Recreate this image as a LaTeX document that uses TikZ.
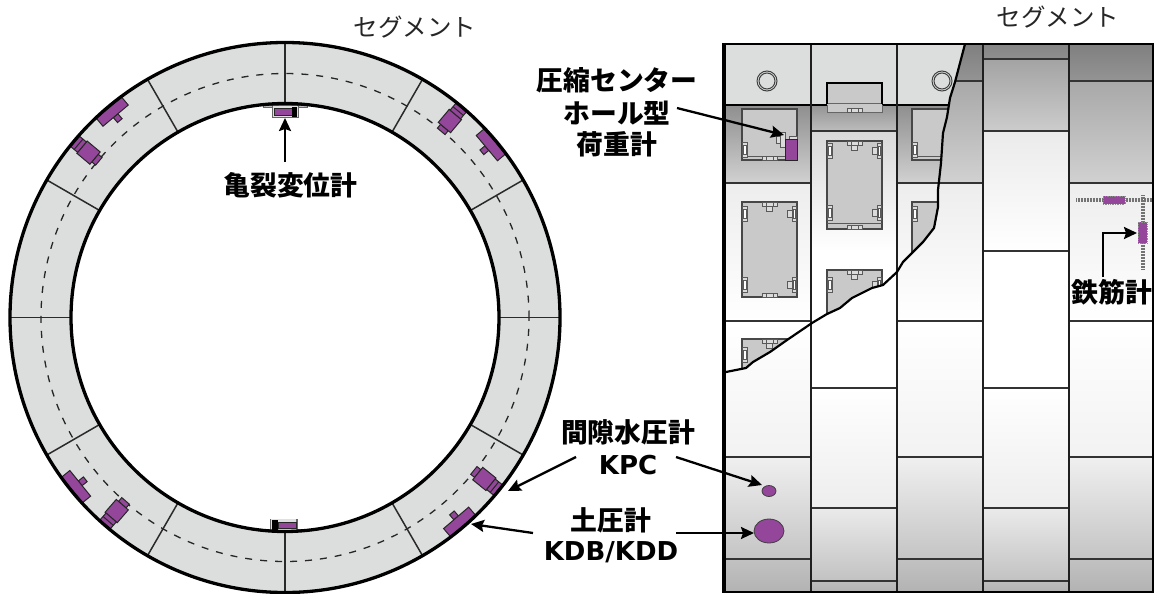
\documentclass[tikz,border=0pt]{standalone}
\usepackage{fontspec}
\setmainfont{DejaVu Sans}
\newfontfamily\jpf{Noto Sans CJK JP}
\usetikzlibrary{arrows.meta,shapes.geometric}
\definecolor{ringfill}{HTML}{DCDDDD}
\definecolor{meter}{HTML}{94479A}
\definecolor{recess}{HTML}{C9C9C9}
\definecolor{seam}{HTML}{2A2A2A}
\tikzset{
  x=1pt,y=-1pt,
  every node/.style={inner sep=0pt,outer sep=0pt,align=center},
  ringedge/.style={draw=black,line width=3.3pt},
  joint/.style={draw=seam,line width=1.5pt},
  sensor/.style={draw=black!85,fill=meter,line width=1pt},
  callout/.style={draw=black,line width=2.3pt,-{Stealth[length=13pt,width=12pt,inset=2pt]}},
  boxst/.style={draw=black!72,fill=recess,line width=1.1pt},
  fitst/.style={draw=black!65,fill=black!14,line width=.8pt},
  hseam/.style={draw=black!80,line width=1.6pt},
  vseam/.style={draw=black!88,line width=2.3pt},
  title/.style={font=\jpf\fontsize{24.5}{28}\selectfont,text=black!85},
  tag/.style={font=\jpf\bfseries\fontsize{26.8}{30}\selectfont},
  code/.style={font=\bfseries\fontsize{26}{30}\selectfont},
  rebar/.style={draw=black!55,line width=3.6pt,dash pattern=on 1pt off .5pt},
  rebarmeter/.style={fill=meter,draw=black!45,densely dotted,line width=.7pt},
}
\newcommand\bandv[6]{\shade[top color=black!#5,bottom color=black!#6] (#1,#3) rectangle (#2,#4);}
\newcommand\sensA[1]{\begin{scope}[shift={(285,317.5)},rotate=#1]
  \draw[sensor] (257,-3) rectangle (263.5,3);
  \draw[sensor] (263.5,-16.5) rectangle (274,16.5);
\end{scope}}
\newcommand\sensB[1]{\begin{scope}[shift={(285,317.5)},rotate=#1]
  \draw[sensor] (243,-5) rectangle (248,5);
  \draw[sensor] (248,-8) rectangle (265,8);
  \draw[sensor] (265,-6.8) rectangle (274,6.8);
  \draw[black!85,line width=1pt] (269.5,-6.8) -- (269.5,6.8);
\end{scope}}
\newcommand\bleft[1]{\draw[fitst] (.5,#1) rectangle +(5,15); \draw[fitst,fill=white] (1.8,#1+3) rectangle +(2.4,9);}
\newcommand\bright[1]{\draw[fitst] (45,#1+4) rectangle +(5,7); \draw[fitst] (50,#1) rectangle +(4.5,15); \draw[fitst,fill=white] (51,#1+3) rectangle +(2.4,9);}
\newcommand\btop{\draw[fitst] (20,0) rectangle +(15,4); \draw[fitst] (24.5,4) rectangle +(6,5); \draw[fitst] (24,0) -- +(0,4) (31,0) -- +(0,4);}
\newcommand\bbot[1]{\draw[fitst] (20,#1-4) rectangle +(15,4); \draw[fitst] (24,#1-4) -- +(0,4) (31,#1-4) -- +(0,4);}
\begin{document}
\begin{tikzpicture}
\useasboundingbox (0,0) rectangle (1156,594);
% ---------- ring
\fill[ringfill,even odd rule] (285,317.5) circle[radius=275pt] (285,317.5) circle[radius=214pt];
\draw[black!85,line width=1.3pt,dash pattern=on 7pt off 8pt] (285,317.5) circle[radius=244pt];
\foreach \a in {0,30,...,330}{
  \draw[joint] ([shift={(\a:214pt)}]285,317.5) -- ([shift={(\a:275pt)}]285,317.5);
}
\sensA{130}\sensB{140}\sensB{50}\sensA{40}\sensA{219}\sensB{229}\sensB{-39}\sensA{-49.5}
% crack gauges
\draw[draw=black!60,fill=black!25,line width=.6pt] (263,105.2) rectangle (307,107.4);
\fill[black!12] (272,106) rectangle (298,117);
\draw[draw=black!60,line width=1.6pt] (272.5,106) -- (272.5,117.5) -- (298.5,117.5) -- (298.5,106);
\draw[sensor] (274,108.5) rectangle (292,115);
\fill[black] (292,107) rectangle (297,117);
\draw[draw=black!60,fill=black!25,line width=.6pt] (263,529.2) rectangle (305,531.3);
\fill[black!12] (270,519) rectangle (297,530);
\draw[draw=black!60,line width=1.6pt] (270.5,530) -- (270.5,518.5) (296.8,530) -- (296.8,518.5);
\draw[sensor] (278,522) rectangle (296,528.7);
\fill[black] (272,520) rectangle (278,530);
\draw[ringedge] (285,317.5) circle[radius=275pt];
\draw[ringedge] (285,317.5) circle[radius=214pt];
% ---------- right panel base
\foreach \xa/\xb in {724/811,897/983,1069/1153}{
  \bandv{\xa}{\xb}{44}{81}{50}{42}
  \bandv{\xa}{\xb}{81}{183}{34}{18}
  \bandv{\xa}{\xb}{183}{321}{7}{0}
  \bandv{\xa}{\xb}{321}{457}{0}{5}
  \bandv{\xa}{\xb}{457}{559}{6}{23}
  \bandv{\xa}{\xb}{559}{592}{24}{30}
  \foreach \yy in {81,183,321,457,559}{\draw[hseam] (\xa,\yy) -- (\xb,\yy);}
}
\foreach \xa/\xb in {811/897,983/1069}{
  \bandv{\xa}{\xb}{44}{59}{48}{44}
  \bandv{\xa}{\xb}{59}{131}{36}{20}
  \bandv{\xa}{\xb}{131}{251}{8}{0}
  \bandv{\xa}{\xb}{251}{388}{0}{0}
  \bandv{\xa}{\xb}{388}{508}{0}{7}
  \bandv{\xa}{\xb}{508}{581}{8}{24}
  \bandv{\xa}{\xb}{581}{592}{26}{30}
  \foreach \yy in {59,131,251,388,508,581}{\draw[hseam] (\xa,\yy) -- (\xb,\yy);}
}
% ---------- cut-away layer, left of the tear
\begin{scope}
\clip (965,44) -- (960,63) -- (955,82) -- (950,98) -- (947,117) -- (943,133) -- (941,163) -- (938,190) -- (938,207) -- (934,228) -- (923,242) -- (913,252) -- (903,262) -- (897,272) -- (883,285) -- (872,288) -- (852,298) -- (840,308) -- (827,314) -- (812,323) -- (787,340) -- (770,352) -- (753,362) -- (746,368) -- (726,372) -- (724,372) -- (724,44) -- cycle;
\bandv{724}{811}{105}{183}{44}{18}
\bandv{897}{983}{105}{183}{44}{18}
\bandv{811}{897}{105}{131}{42}{26}
\bandv{811}{897}{131}{251}{15}{0}
\draw[hseam] (724,183) -- (811,183) (897,183) -- (983,183) (811,131) -- (897,131);
\fill[ringfill] (724,44) rectangle (983,105);
\draw[vseam] (811,44) -- (811,105) (897,44) -- (897,105);
\draw[draw=black,line width=1.8pt] (724,105) -- (983,105);
% circles
\draw[black!75,fill=ringfill,line width=1pt] (767,81) circle[radius=10pt];
\draw[black!75,fill=ringfill,line width=1pt] (767,81) circle[radius=8pt];
\draw[black!75,fill=ringfill,line width=1pt] (942,81) circle[radius=10pt];
\draw[black!75,fill=ringfill,line width=1pt] (942,81) circle[radius=8pt];
% top clasp box
\fill[recess] (827,83) rectangle (882,112);
\draw[black!60,line width=1pt] (827,103) -- (882,103) (827,105) -- (827,112) -- (882,112) -- (882,105);
\draw[black,line width=1.8pt] (827,104) -- (827,83) -- (882,83) -- (882,104);
\begin{scope}[shift={(827,112)}]\bbot{0}\end{scope}
% recess boxes
\begin{scope}[shift={(742,109)}]
  \draw[boxst] (0,0) rectangle (55,51);
  \draw[black!65,line width=.9pt] (0,47) -- (55,47);
  \bleft{33.5}\bbot{51}
  \draw[fitst] (34,27) rectangle +(5,7);
  \draw[fitst] (38.5,23) rectangle +(4.5,15);
  \draw[fitst] (47,27) rectangle (55,30);
  \draw[sensor] (43,30) rectangle (55,51);
\end{scope}
\begin{scope}[shift={(742,202)}]
  \draw[boxst] (0,0) rectangle (55,95);
  \btop\bleft{4}\bleft{75}\bright{4}\bright{75}\bbot{95}
\end{scope}
\begin{scope}[shift={(827,141)}]
  \draw[boxst] (0,0) rectangle (55,88);
  \draw[black!65,line width=.9pt] (0,82) -- (55,82);
  \btop\bleft{2}\bleft{64}\bright{2}\bright{64}\bbot{88}
\end{scope}
\begin{scope}[shift={(912,109)}]
  \draw[boxst] (0,0) rectangle (55,51);
  \draw[black!65,line width=.9pt] (0,47) -- (55,47);
  \bleft{33.5}
\end{scope}
\begin{scope}[shift={(912,202)}]
  \draw[boxst] (0,0) rectangle (55,51);
  \bleft{4}
\end{scope}
\begin{scope}[shift={(827,270)}]
  \draw[boxst] (0,0) rectangle (55,51);
  \btop\bleft{7}\bright{7}
\end{scope}
\begin{scope}[shift={(742,339)}]
  \draw[boxst] (0,0) rectangle (55,51);
  \btop\bleft{8}
\end{scope}
\end{scope}
% column seams, tear, frame
\draw[vseam] (811,44) -- (811,592);
\draw[vseam] (897,44) -- (897,592);
\draw[vseam] (983,44) -- (983,592);
\draw[vseam] (1069,44) -- (1069,592);
\draw[black,line width=2.2pt,line join=round] (965,44) -- (960,63) -- (955,82) -- (950,98) -- (947,117) -- (943,133) -- (941,163) -- (938,190) -- (938,207) -- (934,228) -- (923,242) -- (913,252) -- (903,262) -- (897,272) -- (883,285) -- (872,288) -- (852,298) -- (840,308) -- (827,314) -- (812,323) -- (787,340) -- (770,352) -- (753,362) -- (746,368) -- (726,372);
\draw[black,line width=2.2pt] (724,44) -- (1153,44);
\draw[black,line width=2.2pt] (724,592) -- (1153,592);
\draw[black,line width=3.2pt] (724,43) -- (724,593);
\draw[black,line width=2.6pt] (1153,43) -- (1153,593);
% rebar gauges
\draw[rebar] (1076,200) -- (1152,200);
\draw[rebar] (1143,195) -- (1143,270);
\node[rebarmeter,minimum width=22pt,minimum height=8pt] (rebarh) at (1114,200) {};
\node[rebarmeter,minimum width=9pt,minimum height=21pt] (rebarv) at (1142.5,232.5) {};
% buried meters
\node[draw=black!75,fill=meter,ellipse,minimum width=14pt,minimum height=11pt,line width=.8pt] (kpc) at (769,491) {};
\node[draw=black!75,fill=meter,ellipse,minimum width=30pt,minimum height=24pt,line width=.8pt] (kdb) at (769,531) {};
% ---------- labels
\node[title] (seg1) at (415,27) {セグメント};
\node[title] (seg2) at (1058,17) {セグメント};
\node[tag] (crack) at (290.5,185) {亀裂変位計};
\node[tag] (load1) at (617,80) {圧縮センター};
\node[tag] (load2) at (617,113) {ホール型};
\node[tag] (load3) at (617,144) {荷重計};
\node[tag] (pore) at (628,432) {間隙水圧計};
\node[code] (porec) at (628,465) {KPC};
\node[tag] (earth) at (611,520) {土圧計};
\node[code] (earthc) at (611,552) {KDB/KDD};
\node[tag] (bar) at (1112,292) {鉄筋計};
% ---------- connectors
\coordinate (c1a) at (285,162); \coordinate (c1b) at (285,118);
\coordinate (c2a) at (677,108); \coordinate (c2b) at (784,135);
\coordinate (c3a) at (576,457); \coordinate (c3b) at (508,491);
\coordinate (c4a) at (676,457); \coordinate (c4b) at (762,485);
\coordinate (c5a) at (533,533); \coordinate (c5b) at (471,524);
\coordinate (c6a) at (676,533); \coordinate (c6b) at (754,533);
\coordinate (c7a) at (1103,277); \coordinate (c7b) at (1137,233);
\draw[callout] (c1a) -- (c1b);
\draw[callout] (c2a) -- (c2b);
\draw[callout] (c3a) -- (c3b);
\draw[callout] (c4a) -- (c4b);
\draw[callout] (c5a) -- (c5b);
\draw[callout] (c6a) -- (c6b);
\draw[callout,rounded corners=0pt] (c7a) |- (c7b);
\end{tikzpicture}
\end{document}
